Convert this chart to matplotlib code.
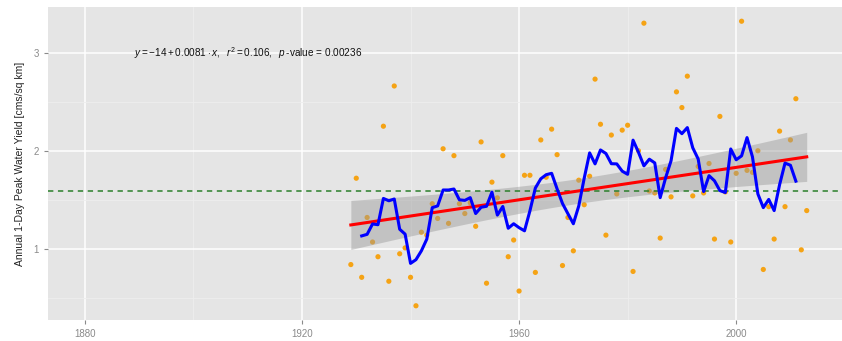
import numpy as np
import pandas as pd
import matplotlib
matplotlib.use("Agg")
import matplotlib.pyplot as plt

# annual 1-day peak water yield
years = np.arange(1929, 2014)
peak_yield = [
    0.84, 1.72, 0.71, 1.32, 1.07, 0.92, 2.25, 0.67, 2.66, 0.95,   # 1929-1938
    1.01, 0.71, 0.42, 1.17, 1.14, 1.46, 1.31, 2.02, 1.26, 1.95,   # 1939-1948
    1.46, 1.36, 1.47, 1.23, 2.09, 0.65, 1.68, 1.52, 1.95, 0.92,   # 1949-1958
    1.09, 0.57, 1.75, 1.75, 0.76, 2.11, 1.73, 2.22, 1.96, 0.83,   # 1959-1968
    1.32, 0.98, 1.70, 1.45, 1.74, 2.73, 2.27, 1.14, 2.16, 1.56,   # 1969-1978
    2.21, 2.26, 0.77, 2.00, 3.30, 1.59, 1.57, 1.11, 1.81, 1.53,   # 1979-1988
    2.60, 2.44, 2.76, 1.54, 1.84, 1.57, 1.87, 1.10, 2.35, 1.58,   # 1989-1998
    1.07, 1.77, 3.32, 1.80, 1.78, 2.00, 0.79, 1.43, 1.10, 2.20,   # 1999-2008
    1.43, 2.11, 2.53, 0.99, 1.39,                                 # 2009-2013
]
x_ticks = [1880, 1920, 1960, 2000]
y_ticks = [1, 2, 3]
y_label = "Annual 1-Day Peak Water Yield [cms/sq km]"
eq_text = r"$y = -14 + 0.0081 \cdot x,\ \ r^2 = 0.106,\ \ p\,$-value = 0.00236"

plt.rcParams["font.family"] = ["Liberation Sans", "DejaVu Sans"]
plt.rcParams["mathtext.fontset"] = "custom"
plt.rcParams["mathtext.rm"] = "Liberation Sans"
plt.rcParams["mathtext.it"] = "Liberation Sans:italic"

df = pd.DataFrame({"year": years, "yield": peak_yield})
df["ma5"] = df["yield"].rolling(5, center=True).mean()

# linear fit + 95% confidence band (like geom_smooth(method="lm"))
n = len(df)
slope, intercept = np.polyfit(df["year"], df["yield"], 1)
fit = intercept + slope * df["year"]
resid = df["yield"] - fit
s = np.sqrt((resid ** 2).sum() / (n - 2))
xm = df["year"].mean()
sxx = ((df["year"] - xm) ** 2).sum()
se = s * np.sqrt(1 / n + (df["year"] - xm) ** 2 / sxx)
t_crit = 1.989  # t(0.975, df=83)

fig = plt.figure(figsize=(8.42, 3.41), dpi=100)
ax = fig.add_axes([48 / 842, 21 / 341, 794 / 842, 313 / 341])
ax.set_facecolor("#e5e5e5")
for sp in ax.spines.values():
    sp.set_visible(False)

ax.set_xticks(x_ticks)
ax.set_yticks(y_ticks)
ax.set_xticks([1900, 1940, 1980], minor=True)
ax.set_yticks([0.5, 1.5, 2.5], minor=True)
ax.grid(which="major", color="white", linewidth=1.1)
ax.grid(which="minor", color="#eeeeee", linewidth=0.6)
ax.set_axisbelow(True)
ax.tick_params(which="major", colors="#8a8a8a", labelsize=7, length=3, width=0.8)
ax.tick_params(which="minor", length=0)

ax.scatter(df["year"], df["yield"], s=14, color="#f5a315", edgecolors="none", zorder=2)
ax.fill_between(df["year"], fit - t_crit * se, fit + t_crit * se,
                color="#999999", alpha=0.45, linewidth=0, zorder=3)
ax.axhline(df["yield"].mean(), color="#2a7f2a", linewidth=1.1, dashes=(3.5, 3), zorder=4)
ax.plot(df["year"], fit, color="#ff0000", linewidth=2.2, zorder=5)
ax.plot(df["year"], df["ma5"], color="#0000ff", linewidth=2.2, zorder=6)

ax.text(1910, 3.0, eq_text, ha="center", va="center", fontsize=7.2, color="#111111")

rng = df["yield"].max() - df["yield"].min()
ax.set_ylim(df["yield"].min() - 0.05 * rng, df["yield"].max() + 0.05 * rng)
ax.set_xlim(1873.2, 2019.5)
ax.set_ylabel(y_label, fontsize=7.5, color="#222222", labelpad=6)

fig.savefig("out.png", dpi=100)
